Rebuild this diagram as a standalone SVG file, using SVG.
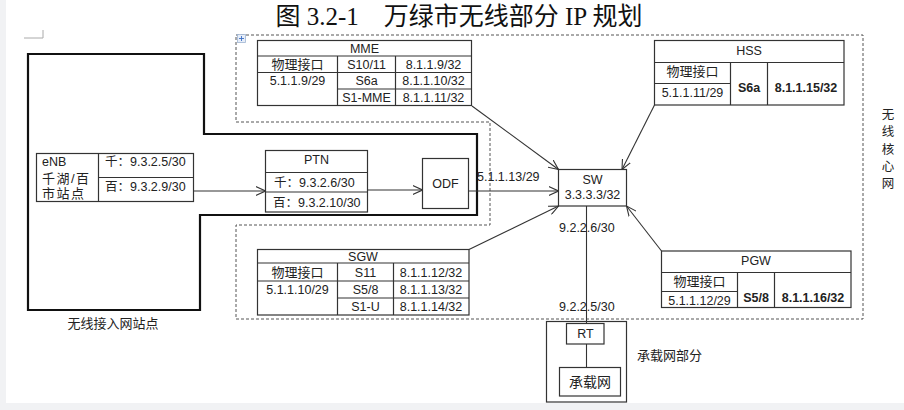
<svg xmlns="http://www.w3.org/2000/svg" width="904" height="410" viewBox="0 0 904 410">
<defs>
<style>
text{font-family:"Liberation Sans","Noto Sans CJK SC",sans-serif;font-size:12.5px;fill:#222}
.c{text-anchor:middle}
.b{font-weight:bold}
.cj{font-size:13px}
.tb{fill:#fff;stroke:#333;stroke-width:1.2}
.ln{stroke:#333;stroke-width:1.2;fill:none}
.con{stroke:#333;stroke-width:1.1;fill:none}
.dash{stroke:#555;stroke-width:1;fill:none;stroke-dasharray:3 2}
.thick{stroke:#111;stroke-width:2.2;fill:none}
</style>
<marker id="arr" viewBox="0 0 10 10" refX="10" refY="5" markerWidth="10" markerHeight="10" markerUnits="userSpaceOnUse" orient="auto">
<path d="M0,0.5 L10,5 L0,9.5" fill="none" stroke="#333" stroke-width="1.1"/>
</marker>
</defs>
<rect x="0" y="0" width="904" height="410" fill="#f1f2f4"/>
<rect x="6" y="0" width="898" height="403" fill="#ffffff"/>
<text x="459" y="25" class="c" style="font-family:'Liberation Serif','Noto Sans CJK SC',serif;font-size:25px;fill:#111">图 3.2-1　万绿市无线部分 IP 规划</text>
<path d="M24,38 H43 V30" fill="none" stroke="#aaa" stroke-width="1"/>

<g id="regions">
<path class="thick" d="M28,54 H204 V134 H477 V215 H200 V310 H28 Z"/>
<path class="dash" d="M236,35 H863 V319 H236 V225 H490 V122 H236 Z"/>
<rect x="237.5" y="34.5" width="8" height="8" fill="#e6edf8" stroke="#9fb3d1" stroke-width="0.8"/>
<path d="M241.5,36 V41 M239,38.5 H244" stroke="#3b6fc4" stroke-width="0.9"/>
<text x="113" y="328" class="c cj">无线接入网站点</text>
<g class="cj">
<text x="888" y="119" class="c">无</text>
<text x="888" y="136" class="c">线</text>
<text x="888" y="153.5" class="c">核</text>
<text x="888" y="171" class="c">心</text>
<text x="888" y="188" class="c">网</text>
</g>
<text x="637" y="360" class="cj">承载网部分</text>
</g>

<g id="connectors">
<line class="con" x1="193.5" y1="191" x2="265.5" y2="191" marker-end="url(#arr)"/>
<line class="con" x1="367.5" y1="190" x2="422.5" y2="190" marker-end="url(#arr)"/>
<line class="con" x1="468.5" y1="191" x2="558.5" y2="191" marker-end="url(#arr)"/>
<line class="con" x1="472" y1="106" x2="558.5" y2="169.5" marker-end="url(#arr)"/>
<line class="con" x1="654.5" y1="105" x2="622" y2="169.5" marker-end="url(#arr)"/>
<line class="con" x1="469" y1="249.5" x2="558.5" y2="206" marker-end="url(#arr)"/>
<line class="con" x1="661.5" y1="251" x2="626.5" y2="206" marker-end="url(#arr)"/>
<line class="con" x1="586.5" y1="206" x2="586.5" y2="323.5"/>
<line class="con" x1="586.5" y1="344" x2="586.5" y2="367.5"/>
<text x="477" y="180.5">5.1.1.13/29</text>
<text x="559" y="232">9.2.2.6/30</text>
<text x="559" y="311">9.2.2.5/30</text>
</g>

<g id="MME">
<rect class="tb" x="257.5" y="40.5" width="214" height="65"/>
<path class="ln" d="M257.5,56 H471.5 M257.5,72.5 H471.5 M337.5,89 H471.5 M337.5,56 V105.5 M395.5,56 V105.5"/>
<text x="364.5" y="52.5" class="c">MME</text>
<text x="297.5" y="69" class="c cj">物理接口</text>
<text x="366.5" y="68.8" class="c">S10/11</text>
<text x="433.5" y="68.8" class="c">8.1.1.9/32</text>
<text x="297.5" y="85.3" class="c">5.1.1.9/29</text>
<text x="366.5" y="85.3" class="c">S6a</text>
<text x="433.5" y="85.3" class="c">8.1.1.10/32</text>
<text x="366.5" y="101.8" class="c">S1-MME</text>
<text x="433.5" y="101.8" class="c">8.1.1.11/32</text>
</g>

<g id="HSS">
<rect class="tb" x="654.5" y="40.5" width="189.5" height="64.5"/>
<path class="ln" d="M654.5,62.5 H844 M654.5,83.5 H730.5 M730.5,62.5 V105 M767.5,62.5 V105"/>
<text x="749" y="55" class="c">HSS</text>
<text x="692.5" y="76" class="c cj">物理接口</text>
<text x="692.5" y="97" class="c">5.1.1.11/29</text>
<text x="749" y="92" class="c b">S6a</text>
<text x="806" y="92" class="c b">8.1.1.15/32</text>
</g>

<g id="eNB">
<rect class="tb" x="36.5" y="153.5" width="157" height="48"/>
<path class="ln" d="M98.5,153.5 V201.5 M98.5,177.5 H193.5"/>
<text x="42" y="166">eNB</text>
<text x="42" y="182.5" class="cj" style="letter-spacing:1.5px">千湖/百</text>
<text x="42" y="198" class="cj" style="letter-spacing:1.5px">市站点</text>
<text x="105" y="166">千：9.3.2.5/30</text>
<text x="105" y="190.5">百：9.3.2.9/30</text>
</g>

<g id="PTN">
<rect class="tb" x="265.5" y="150.5" width="102" height="61.5"/>
<path class="ln" d="M265.5,172.5 H367.5 M265.5,192 H367.5"/>
<text x="316.5" y="164" class="c">PTN</text>
<text x="274" y="186.7">千：9.3.2.6/30</text>
<text x="273" y="206.5">百：9.3.2.10/30</text>
</g>

<g id="ODF">
<rect class="tb" x="422.5" y="158.5" width="46" height="50"/>
<text x="445.5" y="188" class="c">ODF</text>
</g>

<g id="SW">
<rect class="tb" x="558.5" y="169.5" width="68" height="36.5"/>
<text x="592.5" y="183.5" class="c">SW</text>
<text x="592.5" y="199" class="c">3.3.3.3/32</text>
</g>

<g id="SGW">
<rect class="tb" x="257.5" y="249.5" width="211.5" height="65.5"/>
<path class="ln" d="M257.5,263 H469 M257.5,281 H469 M337.5,298 H469 M337.5,263 V315 M393.5,263 V315"/>
<text x="363" y="260.5" class="c">SGW</text>
<text x="297.5" y="277" class="c cj">物理接口</text>
<text x="365.5" y="276.5" class="c">S11</text>
<text x="431" y="276.5" class="c">8.1.1.12/32</text>
<text x="297.5" y="294" class="c">5.1.1.10/29</text>
<text x="365.5" y="294" class="c">S5/8</text>
<text x="431" y="294" class="c">8.1.1.13/32</text>
<text x="365.5" y="311" class="c">S1-U</text>
<text x="431" y="311" class="c">8.1.1.14/32</text>
</g>

<g id="PGW">
<rect class="tb" x="661.5" y="251" width="189.5" height="56.5"/>
<path class="ln" d="M661.5,272.5 H851 M661.5,291.5 H737.5 M737.5,272.5 V307.5 M774.5,272.5 V307.5"/>
<text x="756" y="265" class="c">PGW</text>
<text x="699.5" y="286" class="c cj">物理接口</text>
<text x="699.5" y="304.5" class="c">5.1.1.12/29</text>
<text x="756" y="302" class="c b">S5/8</text>
<text x="813" y="302" class="c b">8.1.1.16/32</text>
</g>

<g id="RT">
<rect class="tb" x="566.5" y="323.5" width="37.5" height="20.5"/>
<text x="585.5" y="338" class="c">RT</text>
</g>

<g id="carrier">
<rect class="tb" x="546.5" y="321.5" width="80" height="80.5" style="fill:none"/>
<rect class="tb" x="559.5" y="367.5" width="61" height="28.5"/>
<text x="590" y="386.5" class="c" style="font-size:14px">承载网</text>
</g>
</svg>
